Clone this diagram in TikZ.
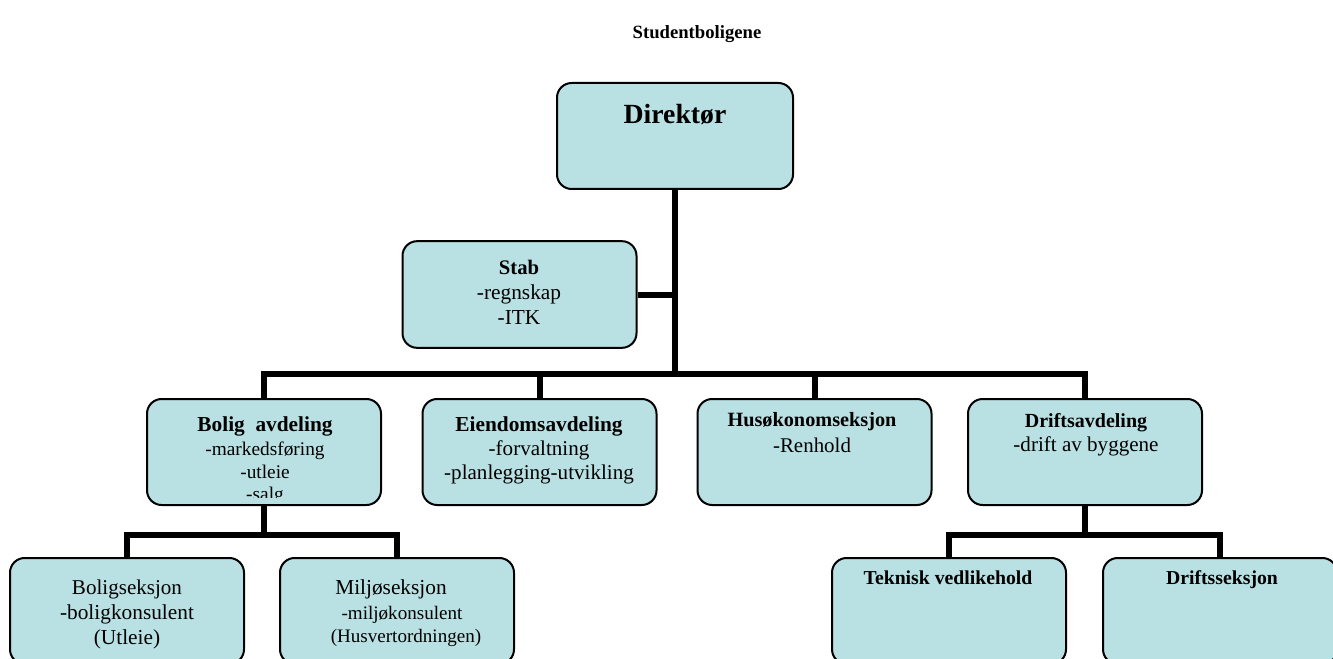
\documentclass[tikz,border=0pt]{standalone}
\usepackage{fontspec}
\setmainfont{Liberation Serif}
\definecolor{boxfill}{RGB}{185,224,227}
\newcommand\setfs[1]{\fontsize{#1pt}{#1pt}\selectfont}
\begin{document}
\begin{tikzpicture}[x=0.75pt,y=-0.75pt,
  orgbox/.style={draw=black, line width=1.5pt, fill=boxfill, rounded corners=11pt,
    minimum width=175.5pt, minimum height=79.5pt, inner sep=0pt},
  txt/.style={anchor=base, inner sep=0pt},
  conn/.style={line width=4.5pt}]
\clip (0,0) rectangle (1333,659);

% title
\node[txt, font=\bfseries\setfs{14}] (title) at (697,39) {Studentboligene};

% boxes
\node[orgbox, minimum width=177pt] (dir) at (675,136) {};
\node[orgbox, minimum height=80pt] (stab) at (519.5,294.5) {};
\node[orgbox] (bolig)   at (264,452) {};
\node[orgbox] (eiendom) at (539.5,452) {};
\node[orgbox] (husok)   at (814.5,452) {};
\node[orgbox] (drift)   at (1085,452) {};
\node[orgbox] (bolseks) at (127,611) {};
\node[orgbox] (miljo)   at (397,611) {};
\node[orgbox] (teknisk) at (949,611) {};
\node[orgbox] (driftseks) at (1220,611) {};

% connectors
\coordinate (bus)  at (675,374);
\coordinate (busL) at (264,535);
\coordinate (busR) at (1085,535);
\draw[conn, line width=5pt] (dir.south) -- (bus);
\draw[conn] (stab.east) -- (stab.east -| bus);
\draw[conn] (bolig.north) |- (bus) -| (drift.north);
\draw[conn] (eiendom.north) -- (eiendom.north |- bus);
\draw[conn] (husok.north) -- (husok.north |- bus);
\draw[conn] (bolig.south) -- (busL);
\draw[conn] (bolseks.north) |- (busL) -| (miljo.north);
\draw[conn] (drift.south) -- (busR);
\draw[conn] (teknisk.north) |- (busR) -| (driftseks.north);

% texts
\node[txt, font=\bfseries\setfs{20.8}] (dir-1) at (675,124) {Direktør};

\node[txt, font=\bfseries\setfs{15.5}] (stab-1) at (519,274) {Stab};
\node[txt, font=\setfs{16}] (stab-2) at (519,299) {-regnskap};
\node[txt, font=\setfs{16}] (stab-3) at (519,324) {-ITK};

\node[txt, font=\bfseries\setfs{16}] (bolig-1) at (265,431) {Bolig\enspace avdeling};
\node[txt, font=\setfs{14.5}] (bolig-2) at (265,455) {-markedsføring};
\node[txt, font=\setfs{14.5}] (bolig-3) at (265,478) {-utleie};
% the last line runs past the text area of the box and is cut off
\begin{scope}
  \clip (148,399) rectangle (380,497);
  \node[txt, font=\setfs{14.5}] (bolig-4) at (265,500) {-salg};
\end{scope}

\node[txt, font=\bfseries\setfs{16}] (eiendom-1) at (539,431) {Eiendomsavdeling};
\node[txt, font=\setfs{15.8}] (eiendom-2) at (539,455) {-forvaltning};
\node[txt, font=\setfs{15.8}] (eiendom-3) at (539,479) {-planlegging-utvikling};

\node[txt, font=\bfseries\setfs{15.2}] (husok-1) at (812,426) {Husøkonomseksjon};
\node[txt, font=\setfs{15.7}] (husok-2) at (812,452) {-Renhold};

\node[txt, font=\bfseries\setfs{15}] (drift-1) at (1086,427) {Driftsavdeling};
\node[txt, font=\setfs{15.8}] (drift-2) at (1086,451) {-drift av byggene};

\node[txt, font=\setfs{15.8}] (bolseks-1) at (127,594) {Boligseksjon};
\node[txt, font=\setfs{16}] (bolseks-2) at (127,619) {-boligkonsulent};
\node[txt, font=\setfs{16}] (bolseks-3) at (127,644) {(Utleie)};

\node[txt, font=\setfs{16}] (miljo-1) at (391,594) {Miljøseksjon};
\node[txt, font=\setfs{14.3}] (miljo-2) at (402,619) {-miljøkonsulent};
\node[txt, font=\setfs{14.3}] (miljo-3) at (406,642) {(Husvertordningen)};

\node[txt, font=\bfseries\setfs{14.8}] (teknisk-1) at (948,584) {Teknisk vedlikehold};
\node[txt, font=\bfseries\setfs{14.8}] (driftseks-1) at (1222,584) {Driftsseksjon};
\end{tikzpicture}
\end{document}
